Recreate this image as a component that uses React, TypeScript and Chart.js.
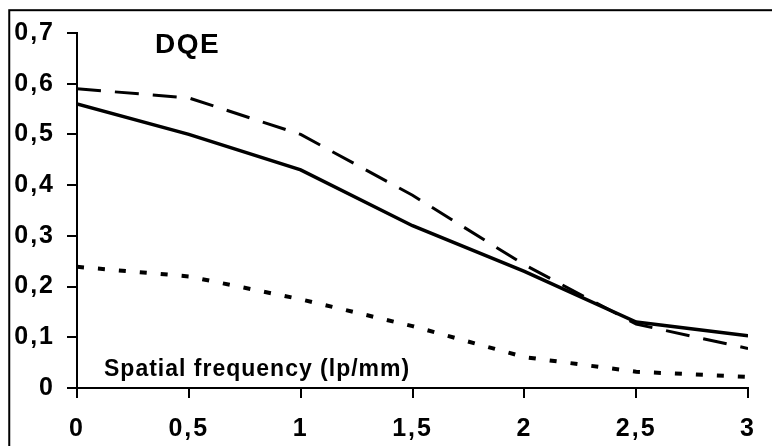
import React, { useEffect, useRef } from "react";
import { Chart, registerables } from "chart.js";

Chart.register(...registerables);

const frequencies = [0, 0.5, 1, 1.5, 2, 2.5, 3];
const solidSeries = [0.56, 0.5, 0.43, 0.32, 0.23, 0.13, 0.103];
const dashedSeries = [0.59, 0.572, 0.5, 0.38, 0.243, 0.126, 0.078];
const dottedSeries = [0.239, 0.22, 0.175, 0.122, 0.061, 0.032, 0.022];
const titleText = "DQE";
const axisText = "Spatial frequency (lp/mm)";

const fmt = (v: number) => {
  const r = Math.round(v * 10) / 10;
  return r === 0 ? "0" : String(r).replace(".", ",");
};

const toPoints = (arr: number[]) => frequencies.map((x, i) => ({ x, y: arr[i] }));

export default function App() {
  const ref = useRef<HTMLCanvasElement | null>(null);
  useEffect(() => {
    document.body.style.margin = "0";
    const canvas = ref.current!;
    const spacingPlugin = {
      id: "spacing",
      beforeUpdate(chart: any) {
        chart.ctx.letterSpacing = "2px";
      },
      beforeDraw(chart: any) {
        chart.ctx.letterSpacing = "2px";
        const ctx = chart.ctx;
        ctx.save();
        ctx.fillStyle = "#fff";
        ctx.fillRect(0, 0, chart.width, chart.height);
        ctx.restore();
      },
      afterDraw(chart: any) {
        const ctx = chart.ctx;
        ctx.save();
        ctx.fillStyle = "#000";
        ctx.textBaseline = "alphabetic";
        ctx.textAlign = "left";
        ctx.letterSpacing = "1.5px";
        ctx.font = "bold 28px 'Liberation Sans', Arial, sans-serif";
        ctx.fillText(titleText, 155, 53);
        ctx.letterSpacing = "1px";
        ctx.font = "bold 23px 'Liberation Sans', Arial, sans-serif";
        ctx.fillText(axisText, 104, 376);
        ctx.letterSpacing = "0px";
        ctx.strokeStyle = "#000";
        ctx.lineWidth = 2;
        ctx.strokeRect(9.25, 10.2, 900, 600);
        ctx.restore();
      },
    };
    const tickFont = { family: "'Liberation Sans', Arial, sans-serif", size: 25, weight: "bold" as const };
    const chart = new Chart(canvas, {
      type: "line",
      data: {
        datasets: [
          {
            data: toPoints(dashedSeries),
            borderColor: "#000",
            borderWidth: 3,
            borderDash: [24, 14],
            pointRadius: 0,
            fill: false,
            tension: 0,
          },
          {
            data: toPoints(solidSeries),
            borderColor: "#000",
            borderWidth: 3.5,
            pointRadius: 0,
            fill: false,
            tension: 0,
          },
          {
            data: toPoints(dottedSeries),
            borderColor: "#000",
            borderWidth: 4,
            borderDash: [7, 14],
            pointRadius: 0,
            fill: false,
            tension: 0,
          },
        ],
      },
      options: {
        responsive: false,
        animation: false,
        devicePixelRatio: 1,
        layout: { padding: { left: 0, top: 33, right: 13, bottom: 0 } },
        plugins: { legend: { display: false }, tooltip: { enabled: false } },
        scales: {
          x: {
            type: "linear",
            min: 0,
            max: 3,
            ticks: {
              stepSize: 0.5,
              color: "#000",
              font: tickFont,
              padding: 16,
              maxRotation: 0,
              autoSkip: false,
              callback: (v: any) => String(v).replace(".", ","),
            },
            grid: { drawOnChartArea: false, drawTicks: true, tickLength: 10, color: "#000", lineWidth: 2 },
            border: { display: true, color: "#000", width: 2 },
            afterFit: (s: any) => {
              s.height = 58;
            },
          },
          y: {
            type: "linear",
            min: 0,
            max: 0.7,
            ticks: {
              stepSize: 0.1,
              color: "#000",
              font: tickFont,
              padding: 12,
              callback: (v: any) => fmt(Number(v)),
            },
            grid: { drawOnChartArea: false, drawTicks: true, tickLength: 10, color: "#000", lineWidth: 2 },
            border: { display: true, color: "#000", width: 2 },
            afterFit: (s: any) => {
              s.width = 77;
            },
          },
        },
      },
      plugins: [spacingPlugin],
    });
    return () => chart.destroy();
  }, []);
  return (
    <div style={{ width: 772, height: 446 }}>
      <canvas ref={ref} width={772} height={446} style={{ display: "block" }} />
    </div>
  );
}
